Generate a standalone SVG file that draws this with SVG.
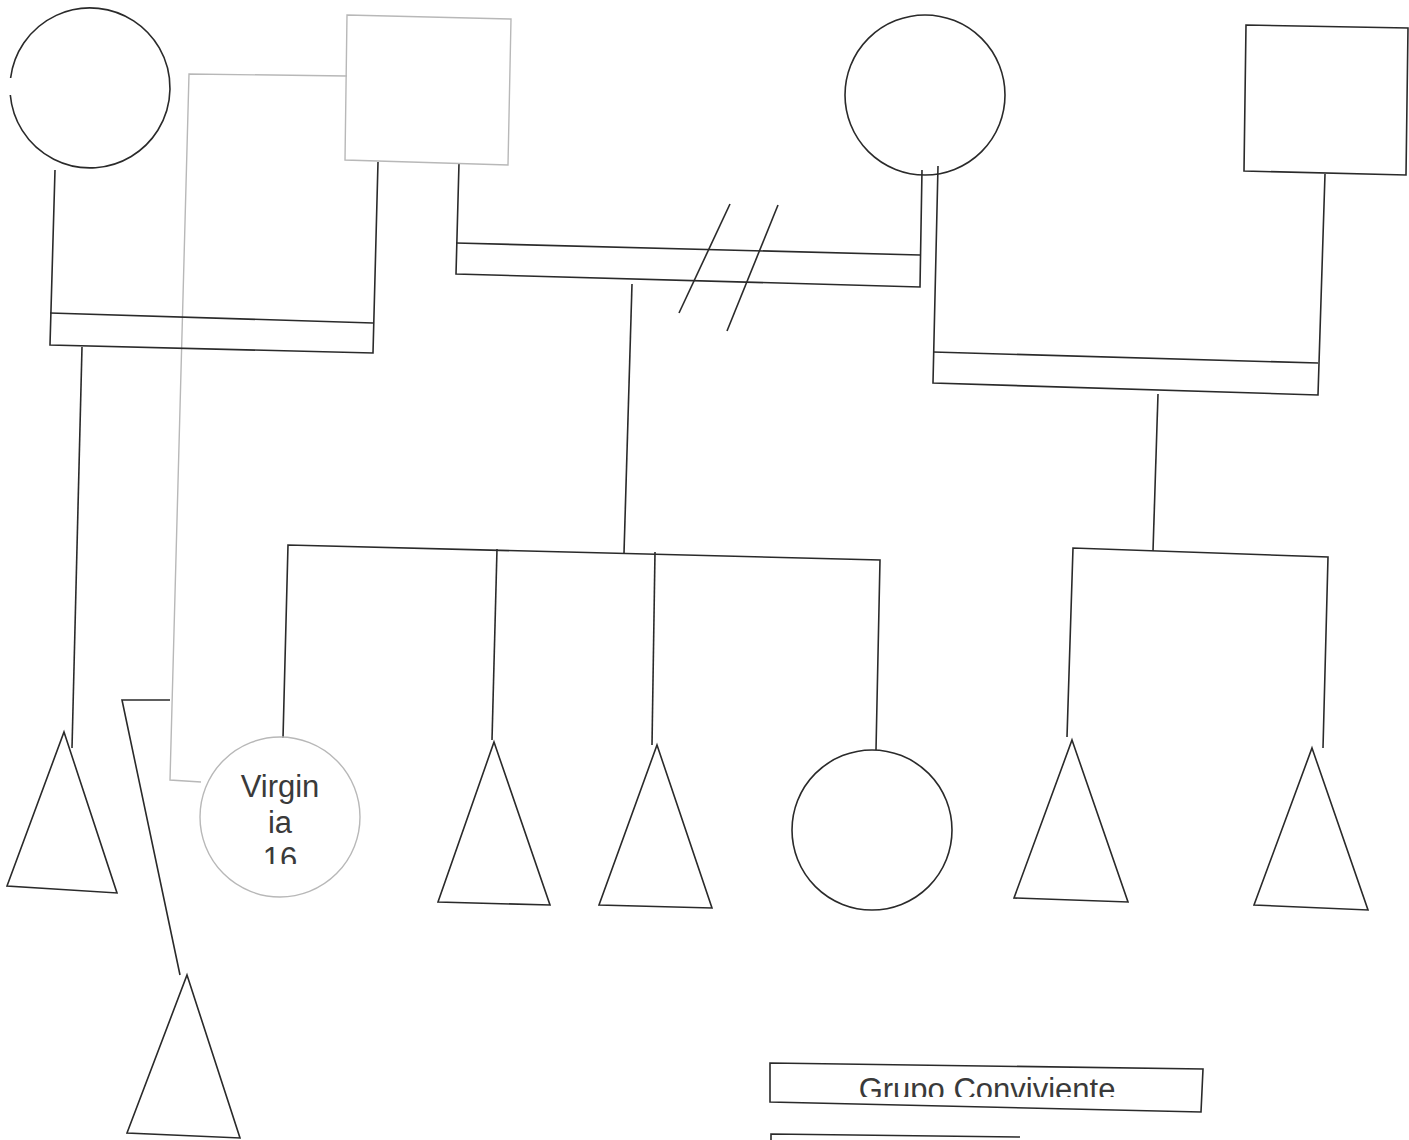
<svg xmlns="http://www.w3.org/2000/svg" width="1409" height="1140" viewBox="0 0 1409 1140">
<style>
.d{fill:none;stroke:#2a2a2a;stroke-width:1.6}
.g{fill:none;stroke:#b8b8b8;stroke-width:1.4}
.t{font-family:"Liberation Sans",Arial,sans-serif;fill:#3a3a3a}
</style>
<defs>
<clipPath id="cv"><rect x="200" y="737" width="162" height="127"/></clipPath>
<clipPath id="cg"><rect x="770" y="1066" width="432" height="31"/></clipPath>
</defs>
<rect width="1409" height="1140" fill="#fff"/>
<g id="connectors">
<polyline class="g" points="347,76 189,74 170,780 201,782"/>
<polyline class="d" points="55,170 50,345 373,353 378,162"/>
<line class="d" x1="50" y1="313" x2="373" y2="323"/>
<line class="d" x1="82" y1="347" x2="72" y2="748"/>
<polyline class="d" points="170,700 122,700 180,975"/>
<polyline class="d" points="459,163 456,274 920,287 922,170"/>
<line class="d" x1="456" y1="243" x2="920" y2="255"/>
<line class="d" x1="730" y1="204" x2="679" y2="313"/>
<line class="d" x1="778" y1="205" x2="727" y2="331"/>
<line class="d" x1="632" y1="284" x2="624" y2="553"/>
<polyline class="d" points="283,738 288,545 880,560 876,750"/>
<line class="d" x1="497" y1="549" x2="492" y2="740"/>
<line class="d" x1="655" y1="552" x2="652" y2="745"/>
<polyline class="d" points="938,166 933,383 1318,395 1325,174"/>
<line class="d" x1="933" y1="352" x2="1318" y2="363"/>
<line class="d" x1="1158" y1="394" x2="1153" y2="551"/>
<polyline class="d" points="1067,737 1073,548 1328,557 1323,748"/>
</g>
<g id="n-a"><path class="d" d="M10.6,78 A80,80 0 1,1 10.3,95"/></g>
<g id="n-b"><polygon class="g" points="347,15 511,19 508,165 345,160"/></g>
<g id="n-c"><circle class="d" cx="925" cy="95" r="80"/></g>
<g id="n-d"><polygon class="d" points="1246,25 1408,28 1406,175 1244,171"/></g>
<g id="n-t1"><polygon class="d" points="64,732 117,893 7,886"/></g>
<g id="n-virginia">
<circle class="g" cx="280" cy="817" r="80"/>
<g clip-path="url(#cv)">
<text class="t" font-size="31" text-anchor="middle"><tspan x="280" y="797">Virgin</tspan><tspan x="280" y="833">ia</tspan><tspan x="280" y="869">16</tspan></text>
</g>
</g>
<g id="n-t2"><polygon class="d" points="494,742 550,905 438,902"/></g>
<g id="n-t3"><polygon class="d" points="657,745 712,908 599,905"/></g>
<g id="n-e"><circle class="d" cx="872" cy="830" r="80"/></g>
<g id="n-t4"><polygon class="d" points="1072,740 1128,902 1014,898"/></g>
<g id="n-t5"><polygon class="d" points="1312,748 1368,910 1254,905"/></g>
<g id="n-t8"><polygon class="d" points="187,975 240,1138 127,1133"/></g>
<g id="legend">
<polygon class="d" points="770,1063 1203,1069 1201,1112 770,1102"/>
<g clip-path="url(#cg)"><text class="t" x="987" y="1100" font-size="31" text-anchor="middle">Grupo Conviviente</text></g>
<polyline class="d" points="771,1140 771,1134 1020,1137"/>
</g>
</svg>
